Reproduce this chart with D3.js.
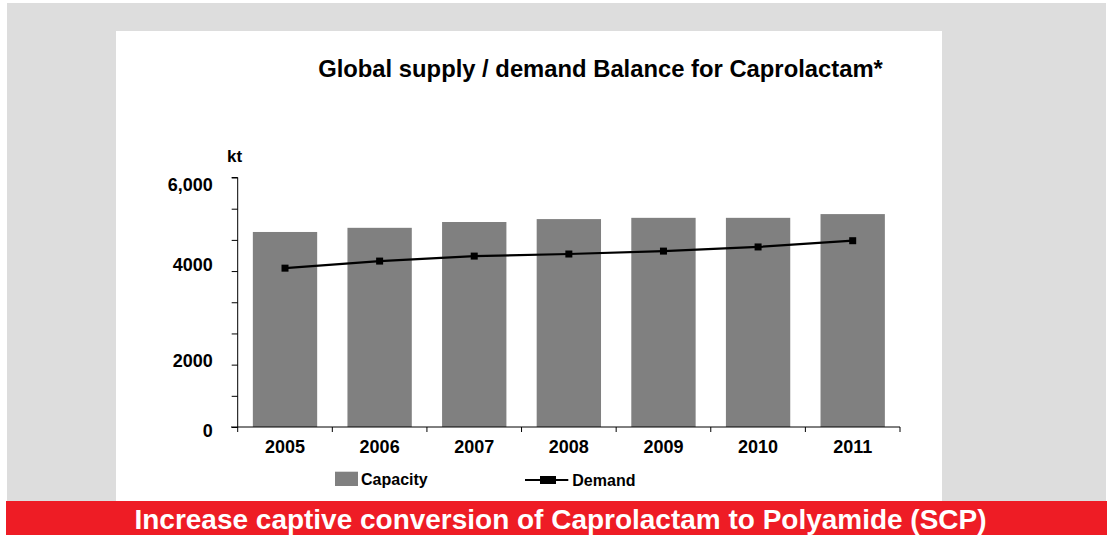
<!DOCTYPE html>
<html>
<head>
<meta charset="utf-8">
<script src="https://cdn.jsdelivr.net/npm/d3@7"></script>
<style>
  html, body { margin: 0; padding: 0; background: #ffffff; }
  svg { display: block; }
  text { font-family: "Liberation Sans", Arial, sans-serif; font-weight: bold; fill: #000; }
</style>
</head>
<body>
<svg id="chart" width="1109" height="535"></svg>
<script>
// ---- data ----
const years = ["2005", "2006", "2007", "2008", "2009", "2010", "2011"];
const capacity = [4690, 4790, 4930, 5000, 5030, 5030, 5120];
const demand = [3820, 3990, 4110, 4160, 4230, 4330, 4480];
const yTickValues = [0, 750, 1500, 2250, 3000, 3750, 4500, 5250, 6000];
const yLabelTexts = ["6,000", "4000", "2000", "0"];
const yLabelValues = [5830, 3900, 1600, -90];
const titleText = "Global supply / demand Balance for Caprolactam*";
const unitText = "kt";
const legendLabels = ["Capacity", "Demand"];
const bannerText = "Increase captive conversion of Caprolactam to Polyamide (SCP)";

const svg = d3.select("#chart");

// backgrounds
svg.append("rect").attr("x", 7).attr("y", 3).attr("width", 1099).attr("height", 498).attr("fill", "#dddddd");
svg.append("rect").attr("x", 116).attr("y", 31).attr("width", 826).attr("height", 470).attr("fill", "#ffffff");
svg.append("rect").attr("x", 6).attr("y", 501).attr("width", 1101).attr("height", 34).attr("fill", "#ee1c25");

// scales
const x = d3.scaleBand().domain(years).range([237.7, 900]).paddingInner(0.32).paddingOuter(0.16);
const y = d3.scaleLinear().domain([0, 6000]).range([427, 177.5]);

// title
svg.append("text").attr("x", 600.5).attr("y", 77).attr("text-anchor", "middle")
  .style("font-size", "23.8px").text(titleText);

// unit
svg.append("text").attr("x", 234.5).attr("y", 162).attr("text-anchor", "middle")
  .style("font-size", "17px").text(unitText);

// bars
svg.append("g").selectAll("rect").data(years).join("rect")
  .attr("x", d => x(d))
  .attr("y", (d, i) => y(capacity[i]))
  .attr("width", x.bandwidth())
  .attr("height", (d, i) => y(0) - y(capacity[i]))
  .attr("fill", "#808080");

// y axis
const yAxis = d3.axisLeft(y).tickValues(yTickValues).tickSize(6).tickFormat("");
const yg = svg.append("g").attr("transform", "translate(237.7,0)").call(yAxis);
yg.select(".domain").attr("stroke", "#000").attr("d", `M-6,${y(6000)}H0V${y(0)}`);
yg.selectAll(".tick line").attr("stroke", "#000");

svg.append("g").selectAll("text").data(yLabelTexts).join("text")
  .attr("x", 212.7)
  .attr("y", (d, i) => y(yLabelValues[i]) + 6.4)
  .attr("text-anchor", "end")
  .style("font-size", "18px")
  .text(d => d);

// x axis
const step = x.step();
const boundaries = years.map(d => x(d) - (step - x.bandwidth()) / 2).concat([x.range()[1]]);
svg.append("line").attr("x1", 231).attr("x2", x.range()[1]).attr("y1", y(0)).attr("y2", y(0))
  .attr("stroke", "#000").attr("stroke-width", 1);
svg.append("g").selectAll("line").data(boundaries).join("line")
  .attr("x1", d => d).attr("x2", d => d)
  .attr("y1", y(0)).attr("y2", y(0) + 5)
  .attr("stroke", "#000");
svg.append("g").selectAll("text").data(years).join("text")
  .attr("x", d => x(d) + x.bandwidth() / 2)
  .attr("y", 453.4)
  .attr("text-anchor", "middle")
  .style("font-size", "18px")
  .text(d => d);

// demand line
const line = d3.line().x((d, i) => x(years[i]) + x.bandwidth() / 2).y(d => y(d));
svg.append("path").datum(demand).attr("d", line)
  .attr("fill", "none").attr("stroke", "#000").attr("stroke-width", 2.2);
svg.append("g").selectAll("rect").data(demand).join("rect")
  .attr("x", (d, i) => x(years[i]) + x.bandwidth() / 2 - 3.5)
  .attr("y", d => y(d) - 3.5)
  .attr("width", 7).attr("height", 7)
  .attr("fill", "#000");

// legend
svg.append("rect").attr("x", 335).attr("y", 471.7).attr("width", 23).attr("height", 14.3).attr("fill", "#808080");
svg.append("text").attr("x", 361).attr("y", 484.5).style("font-size", "16px").text(legendLabels[0]);
svg.append("line").attr("x1", 525).attr("x2", 568.3).attr("y1", 480).attr("y2", 480)
  .attr("stroke", "#000").attr("stroke-width", 2);
svg.append("rect").attr("x", 540).attr("y", 476).attr("width", 16).attr("height", 8).attr("fill", "#000");
svg.append("text").attr("x", 572.3).attr("y", 485.5).style("font-size", "16px").text(legendLabels[1]);

// banner
svg.append("text").attr("x", 560.5).attr("y", 528.5).attr("text-anchor", "middle")
  .attr("textLength", 852).attr("lengthAdjust", "spacingAndGlyphs")
  .style("font-size", "27px").style("fill", "#ffffff").text(bannerText);
</script>
</body>
</html>
